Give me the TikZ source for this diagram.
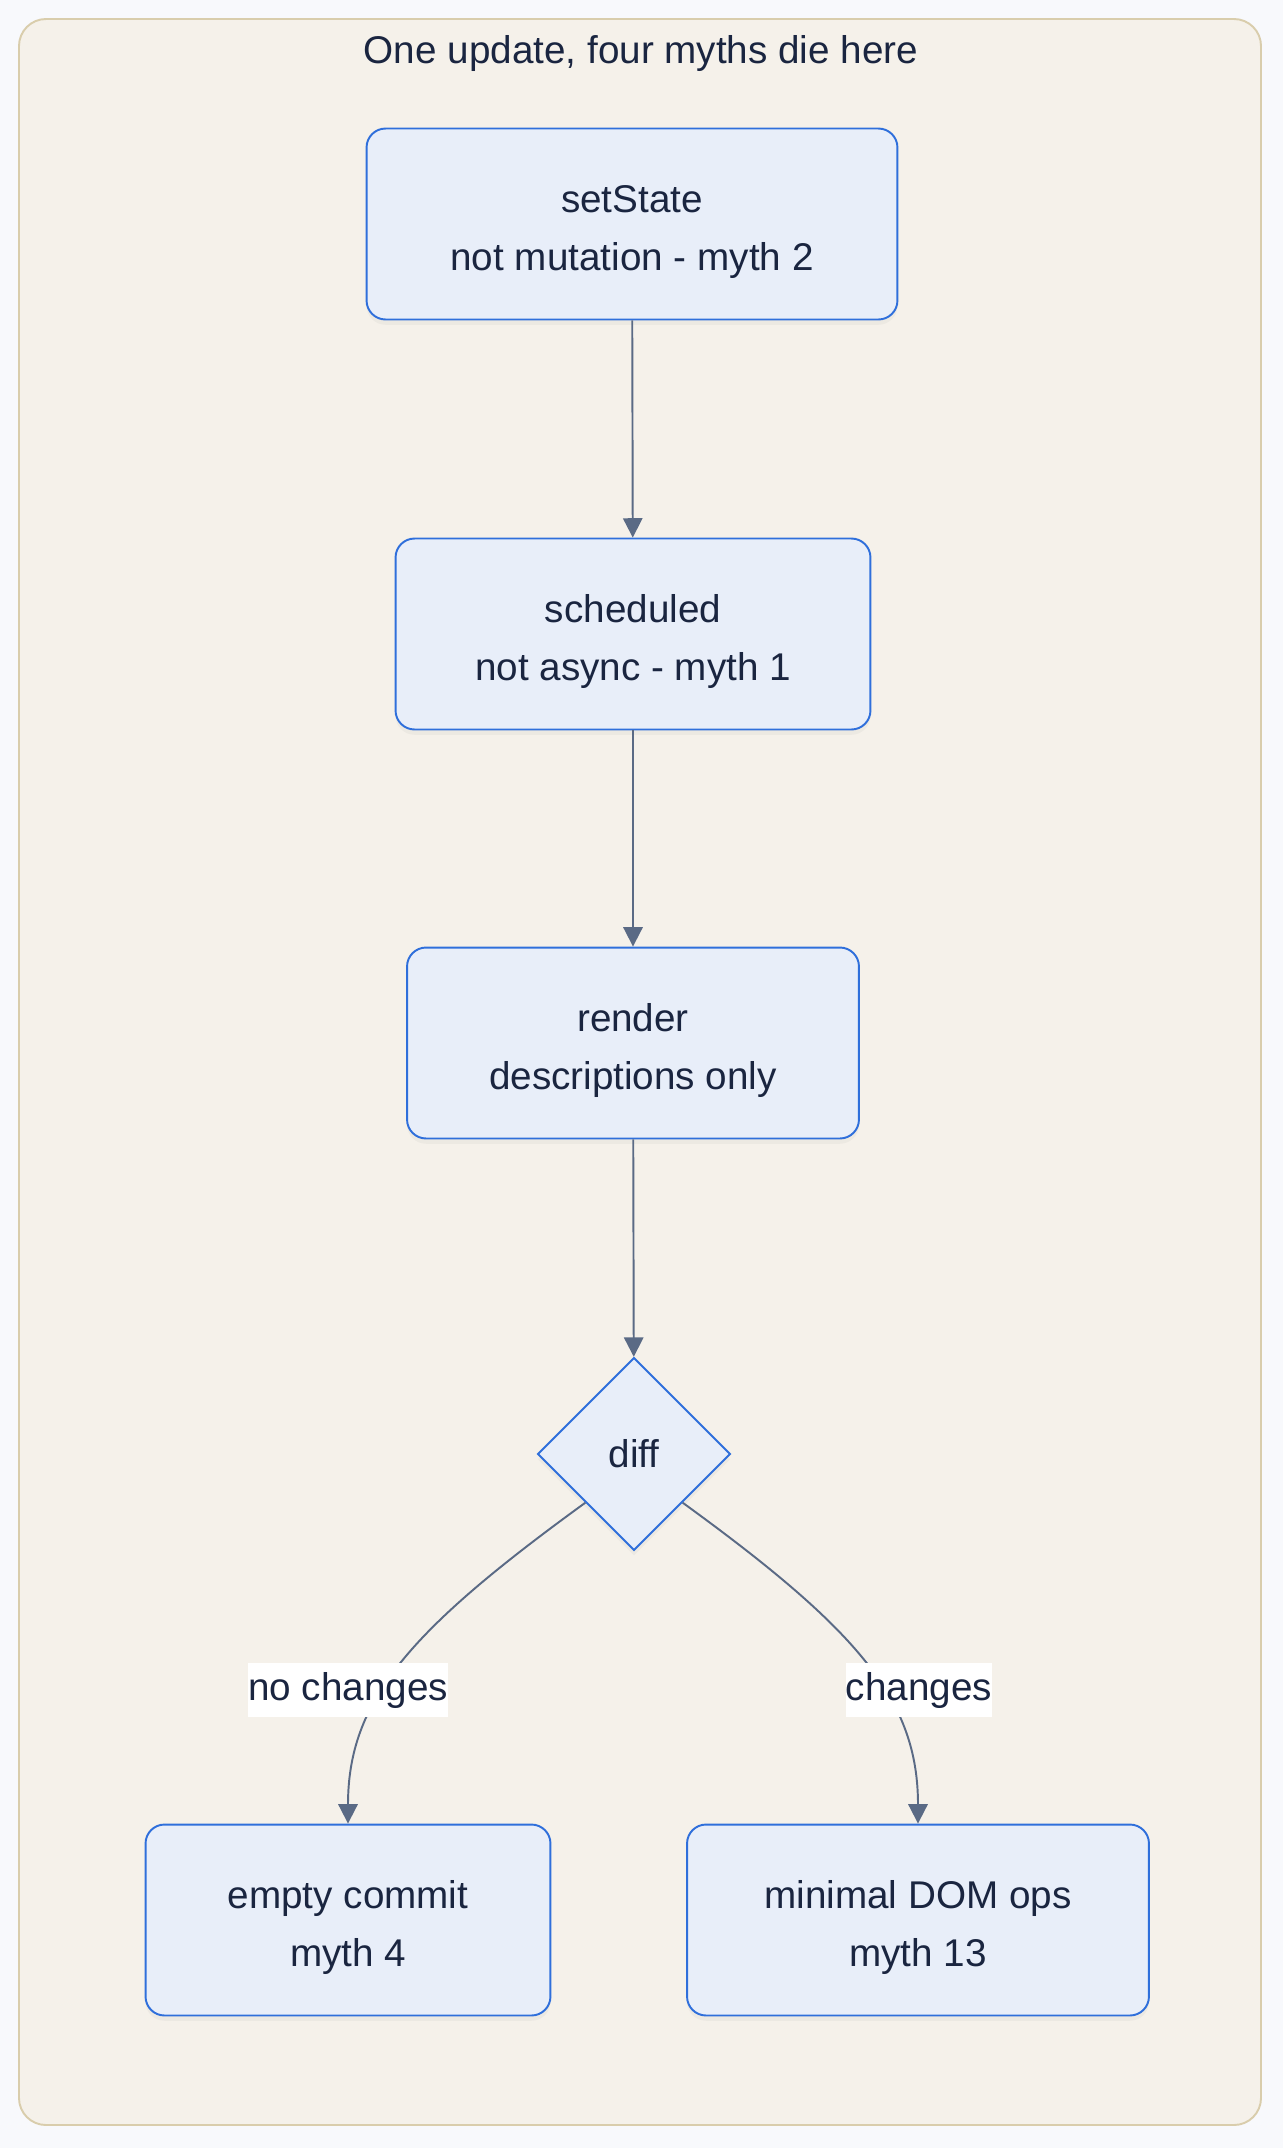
\documentclass[tikz,border=0pt]{standalone}
\usepackage{fontspec}
\setmainfont{Liberation Sans}
\usetikzlibrary{shapes.geometric,arrows.meta,shadows}

\definecolor{pageBg}{HTML}{F8F9FC}
\definecolor{frameFill}{HTML}{F5F1EA}
\definecolor{frameLine}{HTML}{D9CDAC}
\definecolor{boxFill}{HTML}{E8EEF9}
\definecolor{boxLine}{HTML}{2F6FDB}
\definecolor{inkText}{HTML}{1A2540}
\definecolor{edgeLine}{HTML}{5A6A85}

\tikzset{
    stepBox/.style={draw=boxLine, fill=boxFill, line width=1.1pt,
        rounded corners=0.38cm, minimum height=3.82cm, align=center,
        text=inkText, font=\fontsize{22}{33}\selectfont,
        drop shadow={opacity=0.07, shadow xshift=0pt, shadow yshift=-3pt}},
    choiceBox/.style={shape=diamond, aspect=1, draw=boxLine, fill=boxFill,
        line width=1.1pt, minimum size=3.86cm, inner sep=0pt,
        text=inkText, font=\fontsize{22}{26}\selectfont,
        drop shadow={opacity=0.07, shadow xshift=0pt, shadow yshift=-3pt}},
    edgeTag/.style={fill=white, text=inkText, inner xsep=0pt,
        minimum height=1.08cm, font=\fontsize{22}{26}\selectfont},
    flowArrow/.style={draw=edgeLine, line width=1.1pt,
        -{Triangle[length=11pt,width=11pt]}}
}

\begin{document}
\begin{tikzpicture}[x=0.02cm, y=-0.02cm]

\fill[pageBg] (0,0) rectangle (1283,2148);
\useasboundingbox (0,0) rectangle (1283,2148);
\draw[frameLine, fill=frameFill, line width=1.1pt, rounded corners=0.54cm]
    (19,19) rectangle (1261,2125);
\node[text=inkText, font=\fontsize{22}{26}\selectfont] (title) at (641,53)
    {One update, four myths die here};

\coordinate (cSetPt) at (632, 224);
\coordinate (cSchedPt) at (633, 634);
\coordinate (cRenderPt) at (633, 1043);
\coordinate (cDiffPt) at (634, 1454);
\coordinate (cEmptyPt) at (348, 1920);
\coordinate (cDomPt) at (918, 1920);

\foreach \v/\w/\nm/\la/\lb in
{cSetPt/10.62cm/setState/setState/not mutation - myth 2,
    cSchedPt/9.5cm/scheduled/scheduled/not async - myth 1,
    cRenderPt/9.04cm/render/render/descriptions only,
    cEmptyPt/8.1cm/emptyCommit/empty commit/myth 4,
    cDomPt/9.24cm/domOps/minimal DOM ops/myth 13
}
{
    \node[stepBox, minimum width=\w] (\nm) at (\v) {\rule{0pt}{24.5pt}\la\\\lb};
}
\node[choiceBox] (diff) at (cDiffPt) {diff};

\draw[flowArrow] (setState) -- (scheduled);
\draw[flowArrow] (scheduled) -- (render);
\draw[flowArrow] (render) -- (diff);

\draw[flowArrow] (diff.south west) .. controls (410,1630) and (348,1700) .. (emptyCommit.north);
\draw[flowArrow] (diff.south east) .. controls (858,1630) and (918,1700) .. (domOps.north);

\node[edgeTag] (noTag) at (348,1690) {no changes};
\node[edgeTag] (yesTag) at (919,1690) {changes};

\end{tikzpicture}
\end{document}
